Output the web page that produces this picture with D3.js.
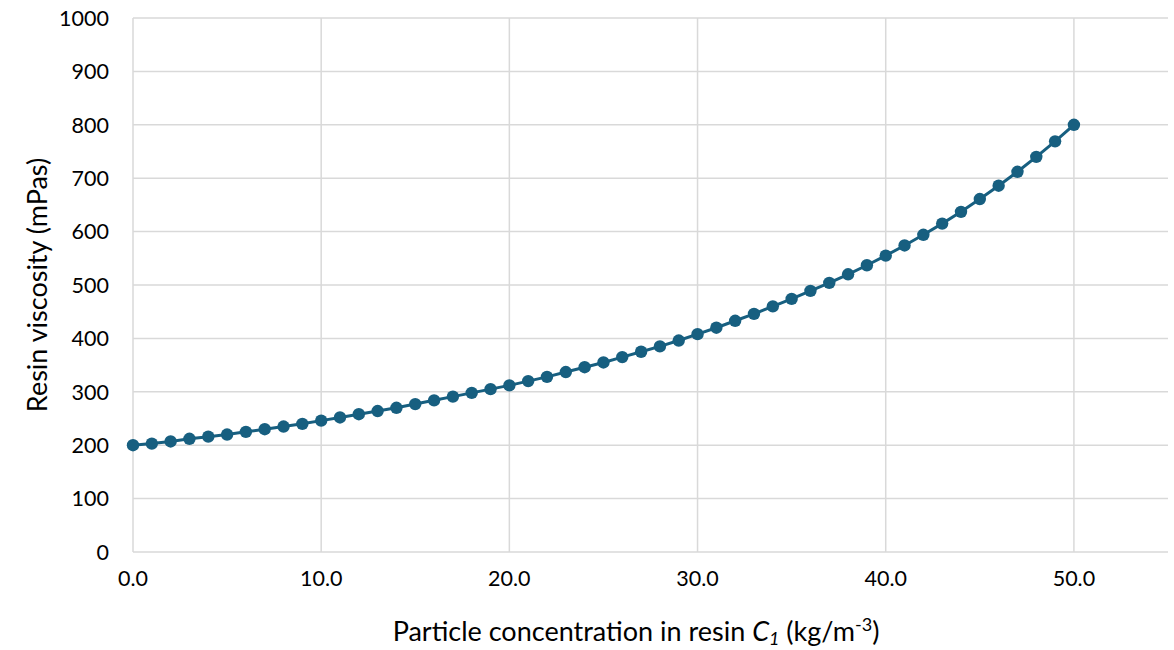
<!DOCTYPE html>
<html>
<head>
<meta charset="utf-8">
<script src="https://cdn.jsdelivr.net/npm/d3@7"></script>
<style>
  html, body { margin: 0; padding: 0; background: #fff; }
  svg text { font-family: Lato, "Open Sans", sans-serif; fill: #000; }
</style>
</head>
<body>
<svg id="chart" width="1174" height="650"></svg>
<script>
const concentration = [0,1,2,3,4,5,6,7,8,9,10,11,12,13,14,15,16,17,18,19,20,21,22,23,24,25,26,27,28,29,30,31,32,33,34,35,36,37,38,39,40,41,42,43,44,45,46,47,48,49,50];
const viscosity = [200,203,207,212,216,220,225,230,235,240,246,252,258,264,270,277,284,291,298,305,312,320,328,337,346,355,365,375,385,396,408,420,433,446,460,474,489,504,520,537,555,574,594,615,637,661,686,712,740,769,800];
const xTicks = [0,10,20,30,40,50];
const yTicks = [0,100,200,300,400,500,600,700,800,900,1000];

const svg = d3.select("#chart");
const margin = {left: 133, right: 6, top: 18, bottom: 98};
const W = 1174, H = 650;
const x = d3.scaleLinear().domain([0, 55]).range([margin.left, W - margin.right]);
const y = d3.scaleLinear().domain([0, 1000]).range([H - margin.bottom, margin.top]);

const gridColor = "#d9d9d9";

svg.append("g").selectAll("line").data(yTicks).join("line")
  .attr("x1", x(0)).attr("x2", x(55))
  .attr("y1", d => y(d)).attr("y2", d => y(d))
  .attr("stroke", gridColor).attr("stroke-width", 1.5);

svg.append("g").selectAll("line").data(xTicks).join("line")
  .attr("x1", d => x(d)).attr("x2", d => x(d))
  .attr("y1", y(0)).attr("y2", y(1000))
  .attr("stroke", gridColor).attr("stroke-width", 1.5);

svg.append("g").selectAll("text").data(yTicks).join("text")
  .attr("x", 109).attr("y", d => y(d))
  .attr("dy", "0.36em")
  .attr("text-anchor", "end")
  .attr("font-size", 21.5)
  .text(d => d);

svg.append("g").selectAll("text").data(xTicks).join("text")
  .attr("x", d => x(d)).attr("y", y(0) + 34)
  .attr("text-anchor", "middle")
  .attr("font-size", 21.5)
  .text(d => d.toFixed(1));

const color = "#175f80";
const line = d3.line().x((d, i) => x(concentration[i])).y(d => y(d));
svg.append("path").datum(viscosity)
  .attr("d", line)
  .attr("fill", "none")
  .attr("stroke", color)
  .attr("stroke-width", 3);

svg.append("g").selectAll("circle").data(viscosity).join("circle")
  .attr("cx", (d, i) => x(concentration[i]))
  .attr("cy", d => y(d))
  .attr("r", 6.2)
  .attr("fill", color);

svg.append("text")
  .attr("transform", `translate(47, ${(y(0) + y(1000)) / 2}) rotate(-90)`)
  .attr("text-anchor", "middle")
  .attr("font-size", 27)
  .text("Resin viscosity (mPas)");

const xt = svg.append("text")
  .attr("x", 636).attr("y", 641)
  .attr("text-anchor", "middle")
  .attr("font-size", 27);
xt.append("tspan").text("Particle concentration in resin ");
xt.append("tspan").attr("font-style", "italic").text("C");
xt.append("tspan").attr("font-style", "italic").attr("font-size", 18).attr("dy", 4).text("1");
xt.append("tspan").attr("dy", -4).text(" (kg/m");
xt.append("tspan").attr("font-size", 18).attr("dy", -10).text("-3");
xt.append("tspan").attr("dy", 10).text(")");
</script>
</body>
</html>
